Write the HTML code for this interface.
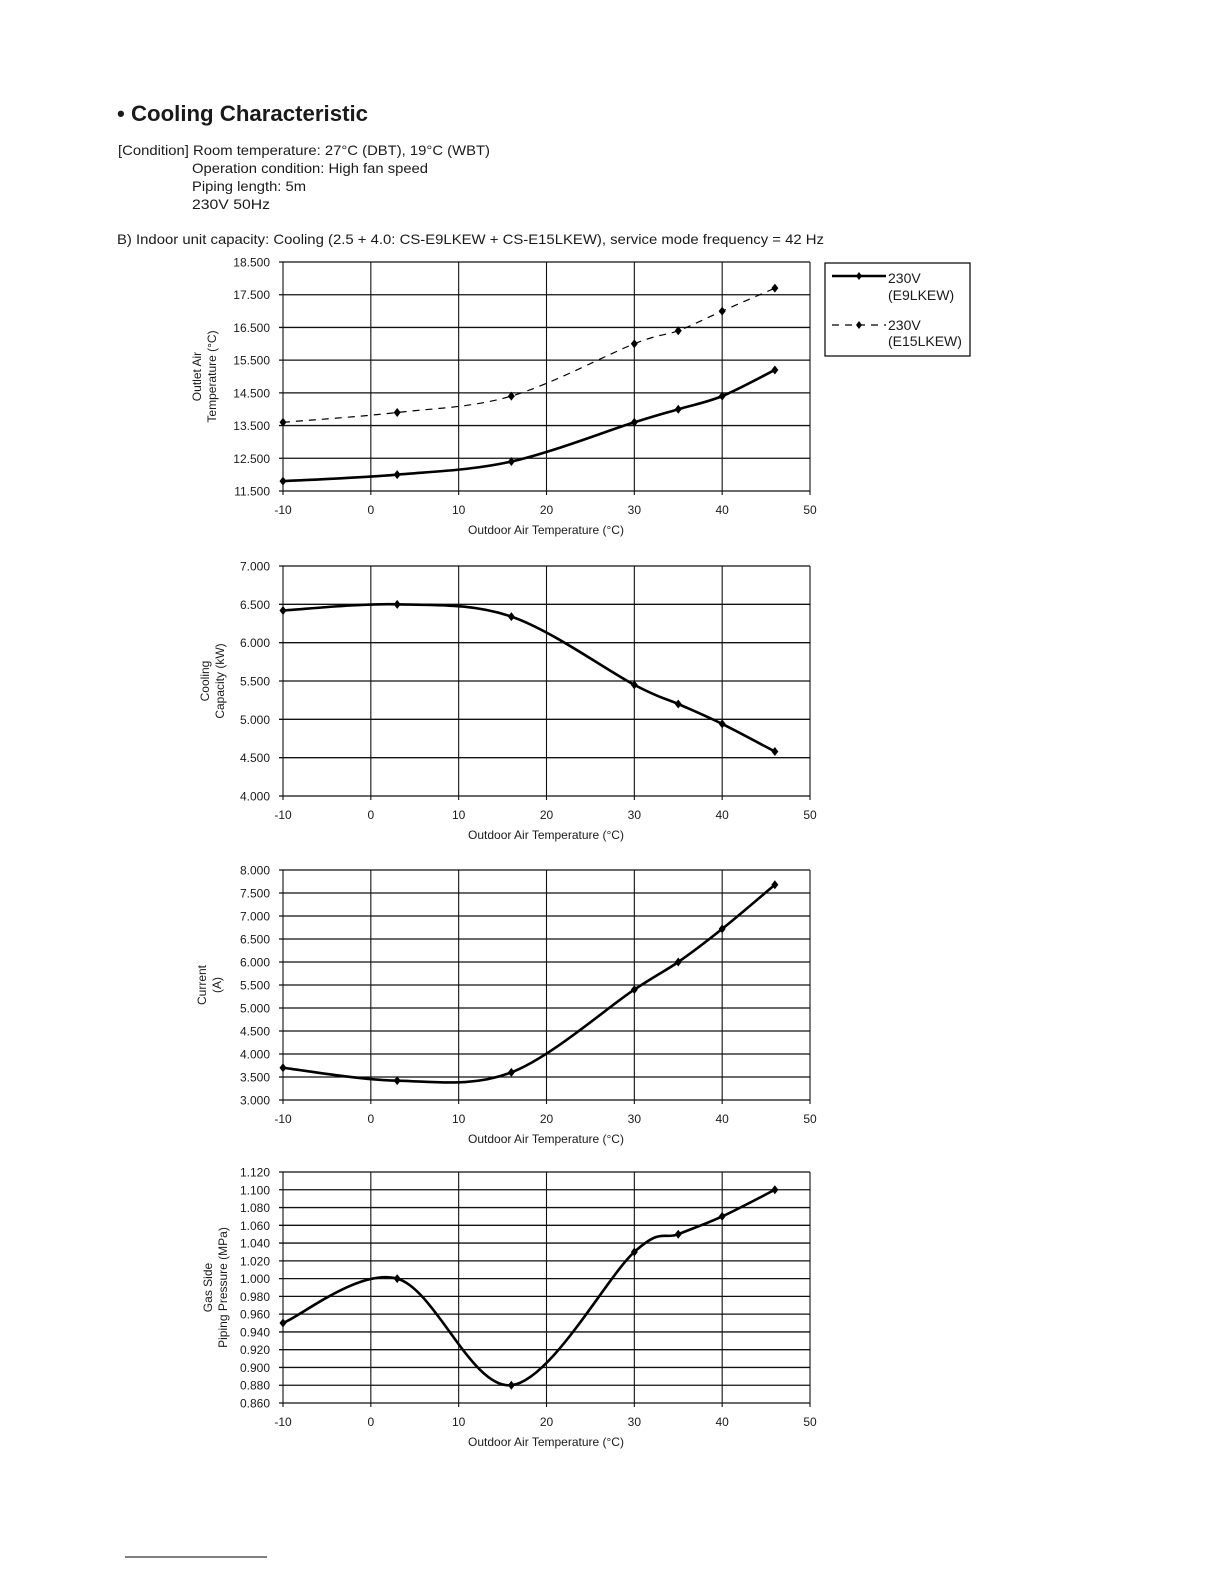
<!DOCTYPE html>
<html><head><meta charset="utf-8"><style>
html,body{margin:0;padding:0;background:#fff;}
svg{display:block;}
text{font-family:"Liberation Sans",sans-serif;fill:#1a1a1a;}
</style></head><body>
<svg id="s" width="1224" height="1584" xmlns="http://www.w3.org/2000/svg">
<text x="117" y="121" font-size="22" font-weight="bold" textLength="251" lengthAdjust="spacingAndGlyphs">• Cooling Characteristic</text>
<text x="118" y="155" font-size="14" textLength="372" lengthAdjust="spacingAndGlyphs">[Condition] Room temperature: 27°C (DBT), 19°C (WBT)</text>
<text x="192" y="173" font-size="14" textLength="236" lengthAdjust="spacingAndGlyphs">Operation condition: High fan speed</text>
<text x="192" y="191" font-size="14" textLength="114" lengthAdjust="spacingAndGlyphs">Piping length: 5m</text>
<text x="192" y="209" font-size="14" textLength="78" lengthAdjust="spacingAndGlyphs">230V  50Hz</text>
<text x="117" y="244" font-size="14" textLength="707" lengthAdjust="spacingAndGlyphs">B) Indoor unit capacity: Cooling (2.5 + 4.0: CS-E9LKEW + CS-E15LKEW), service mode frequency = 42 Hz</text>
<line x1="125" y1="1557" x2="267" y2="1557" stroke="#000" stroke-width="1"/>
<rect x="825" y="263" width="145" height="93" fill="none" stroke="#000" stroke-width="1.2"/>
<line x1="832" y1="276" x2="886" y2="276" stroke="#000" stroke-width="2.5"/>
<path d="M859 272 L862 276 L859 280 L856 276Z" fill="#000"/>
<text x="888" y="283" font-size="14">230V</text>
<text x="888" y="300" font-size="14">(E9LKEW)</text>
<line x1="832" y1="325" x2="886" y2="325" stroke="#000" stroke-width="1.2" stroke-dasharray="7,6"/>
<path d="M859 321 L862 325 L859 329 L856 325Z" fill="#000"/>
<text x="888" y="330" font-size="14">230V</text>
<text x="888" y="346" font-size="14">(E15LKEW)</text>
</svg>
<script>
var s=document.getElementById('s'),NS='http://www.w3.org/2000/svg';
function el(t,a,txt){var e=document.createElementNS(NS,t);for(var k in a)e.setAttribute(k,a[k]);if(txt!=null)e.textContent=txt;s.appendChild(e);return e;}
var XS=[-10,3,16,30,35,40,46];
function chart(c){
 var x0=283,x1=810,X=function(v){return x0+(v+10)/60*(x1-x0)};
 var Y=function(v){return c.b-(v-c.min)/(c.max-c.min)*(c.b-c.t)};
 var n=Math.round((c.max-c.min)/c.step);
 for(var i=0;i<=n;i++){var v=c.min+i*c.step,y=Y(v);
  el('line',{x1:x0-4,x2:x1,y1:y,y2:y,stroke:'#111','stroke-width':1.3});
  el('text',{x:x0-13,y:y+4.5,'font-size':12,'text-anchor':'end'},v.toFixed(3));}
 for(var g=-10;g<=50;g+=10){var x=X(g);
  el('line',{x1:x,x2:x,y1:c.t,y2:c.b+4,stroke:'#111','stroke-width':1.1});
  el('text',{x:x,y:c.b+23,'font-size':12,'text-anchor':'middle'},String(g));}
 el('text',{x:546,y:c.b+43,'font-size':12,'text-anchor':'middle'},'Outdoor Air Temperature (°C)');
 var cy=(c.t+c.b)/2;
 c.lab.forEach(function(l,i){var xx=c.lx+i*15;el('text',{x:xx,y:cy,'font-size':12,'text-anchor':'middle',transform:'rotate(-90 '+xx+' '+cy+')'},l);});
 c.series.forEach(function(sr){
  var P=XS.map(function(x,i){return [X(x),Y(sr.d[i])]});
  var d='M'+P[0][0]+' '+P[0][1];
  for(var i=0;i<P.length-1;i++){var p0=P[Math.max(i-1,0)],p1=P[i],p2=P[i+1],p3=P[Math.min(i+2,P.length-1)];
   d+=' C'+(p1[0]+(p2[0]-p0[0])/6)+' '+(p1[1]+(p2[1]-p0[1])/6)+' '+(p2[0]-(p3[0]-p1[0])/6)+' '+(p2[1]-(p3[1]-p1[1])/6)+' '+p2[0]+' '+p2[1];}
  var a={d:d,fill:'none',stroke:'#000','stroke-width':sr.dash?1.2:2.6};if(sr.dash)a['stroke-dasharray']='7,6';
  el('path',a);
  P.forEach(function(p){el('path',{d:'M'+p[0]+' '+(p[1]-4.5)+'L'+(p[0]+3.5)+' '+p[1]+'L'+p[0]+' '+(p[1]+4.5)+'L'+(p[0]-3.5)+' '+p[1]+'Z',fill:'#000'});});
 });
}
chart({t:262,b:491,min:11.5,max:18.5,step:1,lx:201,lab:['Outlet Air','Temperature (°C)'],series:[{d:[11.8,12.0,12.4,13.6,14.0,14.4,15.2]},{d:[13.6,13.9,14.4,16.0,16.4,17.0,17.7],dash:1}]});
chart({t:566,b:796,min:4.0,max:7.0,step:0.5,lx:209,lab:['Cooling','Capacity (kW)'],series:[{d:[6.42,6.50,6.34,5.45,5.20,4.94,4.58]}]});
chart({t:870,b:1100,min:3.0,max:8.0,step:0.5,lx:206,lab:['Current','(A)'],series:[{d:[3.70,3.42,3.60,5.40,6.00,6.72,7.68]}]});
chart({t:1172,b:1403,min:0.86,max:1.12,step:0.02,lx:212,lab:['Gas Side','Piping Pressure (MPa)'],series:[{d:[0.95,1.00,0.88,1.03,1.05,1.07,1.10]}]});
</script>
</body></html>
